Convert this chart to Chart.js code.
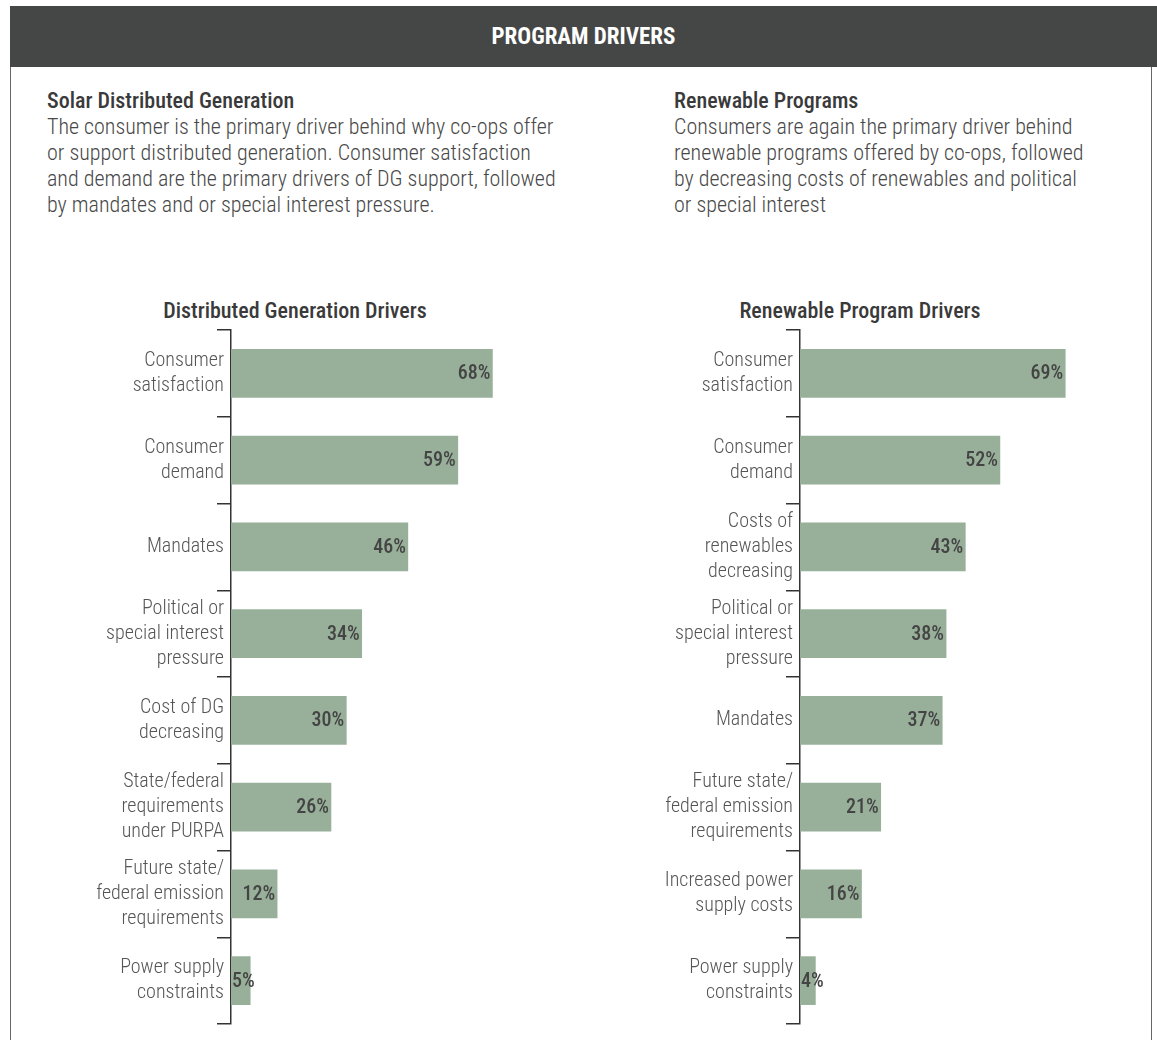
<!DOCTYPE html>
<html>
<head>
<meta charset="utf-8">
<script src="https://cdn.jsdelivr.net/npm/chart.js@4"></script>
<style>
  body { margin: 0; width: 1157px; height: 1040px; background: #fff; position: relative; overflow: hidden;
         font-family: 'Roboto Condensed', 'Roboto', sans-serif; }
  .header { position: absolute; left: 10px; top: 6px; width: 1147px; height: 61px; background: #454746;
            color: #fff; font-weight: 700; font-size: 23px; line-height: 61px; text-align: center; }
  .frame { position: absolute; top: 67px; bottom: 0; width: 0; border-left: 1.5px solid #666; }
  .block { position: absolute; top: 88px; color: #484848; font-weight: 300; font-size: 22px; line-height: 26px; }
  .block b { display: block; font-weight: 500; font-size: 22px; color: #3a3a3a; }
  .ctitle { position: absolute; top: 298px; width: 400px; text-align: center; color: #3a3a3a;
            font-weight: 500; font-size: 22px; line-height: 26px; }
  .chartbox { position: absolute; top: 325px; width: 557px; height: 705px; }
</style>
</head>
<body>
<div class="header">PROGRAM DRIVERS</div>
<div class="frame" style="left:10px"></div>
<div class="frame" style="left:1151px"></div>

<div class="block" style="left:47px">
  <b>Solar Distributed Generation</b>
  The consumer is the primary driver behind why co-ops offer<br>
  or support distributed generation. Consumer satisfaction<br>
  and demand are the primary drivers of DG support, followed<br>
  by mandates and or special interest pressure.
</div>
<div class="block" style="left:674px">
  <b>Renewable Programs</b>
  Consumers are again the primary driver behind<br>
  renewable programs offered by co-ops, followed<br>
  by decreasing costs of renewables and political<br>
  or special interest
</div>

<div class="ctitle" style="left:95px">Distributed Generation Drivers</div>
<div class="ctitle" style="left:660px">Renewable Program Drivers</div>

<div class="chartbox" style="left:20px"><canvas id="dgChart"></canvas></div>
<div class="chartbox" style="left:589px"><canvas id="rpChart"></canvas></div>

<script>
const dgLabels = [
  ['Consumer', 'satisfaction'],
  ['Consumer', 'demand'],
  'Mandates',
  ['Political or', 'special interest', 'pressure'],
  ['Cost of DG', 'decreasing'],
  ['State/federal', 'requirements', 'under PURPA'],
  ['Future state/', 'federal emission', 'requirements'],
  ['Power supply', 'constraints']
];
const dgValues = [68, 59, 46, 34, 30, 26, 12, 5];

const rpLabels = [
  ['Consumer', 'satisfaction'],
  ['Consumer', 'demand'],
  ['Costs of', 'renewables', 'decreasing'],
  ['Political or', 'special interest', 'pressure'],
  'Mandates',
  ['Future state/', 'federal emission', 'requirements'],
  ['Increased power', 'supply costs'],
  ['Power supply', 'constraints']
];
const rpValues = [69, 52, 43, 38, 37, 21, 16, 4];

const barColor = '#98b09a';

Chart.defaults.font.family = "'Roboto Condensed', 'Roboto', sans-serif";

// percent labels at the inner end of each bar, pushed right when the bar is too short
const valueLabels = {
  id: 'valueLabels',
  afterDatasetsDraw(chart) {
    const ctx = chart.ctx;
    const meta = chart.getDatasetMeta(0);
    ctx.save();
    ctx.font = "500 20px 'Roboto Condensed', 'Roboto', sans-serif";
    ctx.fillStyle = '#444';
    ctx.textAlign = 'right';
    ctx.textBaseline = 'middle';
    meta.data.forEach((bar, i) => {
      const txt = chart.data.datasets[0].data[i] + '%';
      const w = ctx.measureText(txt).width;
      const x = Math.max(bar.x - 2, bar.base + 1 + w);
      ctx.fillText(txt, x, bar.y + 1);
    });
    ctx.restore();
  }
};

function makeChart(id, labels, values) {
  new Chart(document.getElementById(id), {
    type: 'bar',
    data: {
      labels: labels,
      datasets: [{
        data: values,
        backgroundColor: barColor,
        barThickness: 48
      }]
    },
    options: {
      indexAxis: 'y',
      responsive: true,
      maintainAspectRatio: false,
      animation: false,
      layout: { padding: { top: 5, bottom: 6, left: 0, right: 0 } },
      plugins: { legend: { display: false }, tooltip: { enabled: false } },
      scales: {
        x: { display: false, min: 0, max: 90 },
        y: {
          afterFit(scale) {
            scale.width = 211;
            scale.paddingTop = 0;
            scale.paddingBottom = 0;
          },
          border: { display: true, color: '#333', width: 1.5 },
          grid: { drawOnChartArea: false, drawTicks: true, tickLength: 14, color: '#333', lineWidth: 1.5, offset: true },
          ticks: {
            padding: -7,
            color: '#555',
            font: { size: 20, weight: 300, lineHeight: 1.25 }
          }
        }
      }
    },
    plugins: [valueLabels]
  });
}

makeChart('dgChart', dgLabels, dgValues);
makeChart('rpChart', rpLabels, rpValues);
</script>
</body>
</html>
